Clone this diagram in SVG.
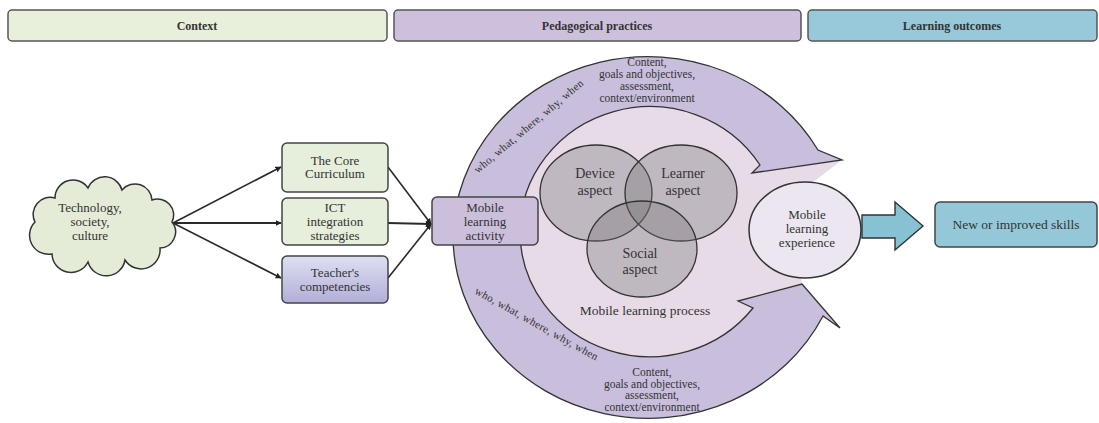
<svg xmlns="http://www.w3.org/2000/svg" width="1099" height="423" viewBox="0 0 1099 423">
<defs>
<style>
.t{font-family:"Liberation Serif","DejaVu Serif",serif;fill:#333;text-anchor:middle}
.h{font-size:12px;font-weight:bold}
.b{font-size:13px}
.s{font-size:11.5px}
.r{font-size:11px;letter-spacing:0.3px}
.v{font-size:14px}
.bar{stroke:#555;stroke-width:1.5}
.box{stroke:#444;stroke-width:1.5}
.ln{stroke:#2a2a2a;stroke-width:1.6;fill:none}
.band{fill:#c9bedc;stroke:#333;stroke-width:1.3}
.venn{fill:#707070;fill-opacity:0.33;stroke:#333;stroke-width:1.3}
</style>
<linearGradient id="tg" x1="0" y1="0" x2="0" y2="1">
<stop offset="0" stop-color="#dde0f2"/>
<stop offset="1" stop-color="#b2aed8"/>
</linearGradient>
<marker id="ah" viewBox="0 0 10 10" refX="9" refY="5" markerWidth="6" markerHeight="6" orient="auto" markerUnits="userSpaceOnUse">
<path d="M0,0 L10,5 L0,10 z" fill="#222"/>
</marker>
</defs>
<rect width="1099" height="423" fill="#ffffff"/>

<g id="header-context"><rect class="bar" x="8" y="10" width="379" height="31" rx="4" fill="#e8f0dc"/><text class="t h" x="197" y="30">Context</text></g>
<g id="header-pedagogical"><rect class="bar" x="394" y="10" width="407" height="31" rx="4" fill="#cdc0dd"/><text class="t h" x="597" y="30">Pedagogical practices</text></g>
<g id="header-outcomes"><rect class="bar" x="808" y="10" width="289" height="31" rx="4" fill="#97c9da"/><text class="t h" x="952" y="30">Learning outcomes</text></g>

<g id="connectors">
<line class="ln" x1="173" y1="223" x2="281" y2="167" marker-end="url(#ah)"/>
<line class="ln" x1="173" y1="223" x2="281" y2="223" marker-end="url(#ah)" style="stroke-width:2.2"/>
<line class="ln" x1="173" y1="223" x2="281" y2="278" marker-end="url(#ah)"/>
<line class="ln" x1="388" y1="167" x2="431" y2="224" marker-end="url(#ah)"/>
<line class="ln" x1="388" y1="223" x2="431" y2="224" marker-end="url(#ah)" style="stroke-width:2.2"/>
<line class="ln" x1="388" y1="278" x2="431" y2="224" marker-end="url(#ah)"/>
</g>

<g id="cloud">
<path d="M35,222 A17 17 0 0 1 55,198 A18 18 0 0 1 88,188 A18 18 0 0 1 122,190 A17 17 0 0 1 152,200 A16 16 0 0 1 172,222 A16 16 0 0 1 160,248 A19 19 0 0 1 125,260 A19 19 0 0 1 88,262 A19 19 0 0 1 52,254 A19 19 0 0 1 35,222 Z" fill="#e4ecd8" stroke="#333" stroke-width="1.5"/>
<text class="t b" x="90" y="212">Technology,</text>
<text class="t b" x="90" y="226">society,</text>
<text class="t b" x="90" y="240">culture</text>
</g>

<g id="core-curriculum"><rect class="box" x="282" y="143" width="106" height="49" rx="5" fill="#e6eedc"/><text class="t b" x="335" y="165">The Core</text><text class="t b" x="335" y="178">Curriculum</text></g>
<g id="ict"><rect class="box" x="282" y="198" width="106" height="47" rx="5" fill="#e6eedc"/><text class="t b" x="335" y="212">ICT</text><text class="t b" x="335" y="226">integration</text><text class="t b" x="335" y="240">strategies</text></g>
<g id="teachers"><rect class="box" x="282" y="256" width="106" height="47" rx="5" fill="url(#tg)"/><text class="t b" x="335" y="277">Teacher's</text><text class="t b" x="335" y="291">competencies</text></g>

<g id="process-area">
<path d="M760,165 A130 125 0 1 0 753,308 L802,284 L790,200 L842,160 Z" fill="#e8dbe8"/>
</g>

<g id="cycle-upper">
<path class="band" d="M453,236 A195 183 0 0 1 818,150 L842,160 L752,173 L760,165 A130 125 0 0 0 520,232 Z"/>
<text class="t s" x="647" y="66">Content,</text>
<text class="t s" x="647" y="78">goals and objectives,</text>
<text class="t s" x="647" y="90">assessment,</text>
<text class="t s" x="647" y="102">context/environment</text>
<text class="t r" transform="translate(531,129) rotate(-40)">who, what, where, why, when</text>
</g>

<g id="cycle-lower">
<path class="band" d="M453,236 A195 183 0 0 0 823,316 L840,328 L802,284 L738,301 L753,308 A130 125 0 0 1 520,232 Z"/>
<text class="t s" x="652" y="376">Content,</text>
<text class="t s" x="652" y="387.5">goals and objectives,</text>
<text class="t s" x="652" y="399">assessment,</text>
<text class="t s" x="652" y="410.5">context/environment</text>
<text class="t r" transform="translate(535,327) rotate(29)">who, what, where, why, when</text>
</g>

<g id="venn">
<ellipse class="venn" cx="596" cy="193" rx="56" ry="48"/>
<ellipse class="venn" cx="681" cy="193" rx="56" ry="48"/>
<ellipse class="venn" cx="642" cy="249" rx="55" ry="48"/>
<text class="t v" x="595" y="178">Device</text><text class="t v" x="595" y="195">aspect</text>
<text class="t v" x="683" y="178">Learner</text><text class="t v" x="683" y="195">aspect</text>
<text class="t v" x="640" y="258">Social</text><text class="t v" x="640" y="274">aspect</text>
<text class="t" style="font-size:13.5px" x="645" y="315">Mobile learning process</text>
</g>

<g id="mobile-activity"><rect class="box" x="432" y="197" width="106" height="48" rx="5" fill="#cbbfdc"/><text class="t b" x="485" y="212">Mobile</text><text class="t b" x="485" y="226">learning</text><text class="t b" x="485" y="240">activity</text></g>

<g id="mobile-experience"><ellipse cx="805" cy="230" rx="56" ry="48" fill="#ebe6f0" stroke="#333" stroke-width="1.5"/><text class="t b" x="807" y="219">Mobile</text><text class="t b" x="807" y="233">learning</text><text class="t b" x="807" y="247">experience</text></g>

<g id="outcome-arrow"><path d="M862,215 L895,215 L895,202 L923,226 L895,250 L895,238 L862,238 Z" fill="#86c2d4" stroke="#333" stroke-width="1.4"/></g>

<g id="skills"><rect class="box" x="935" y="202" width="162" height="45" rx="5" fill="#94c8d8"/><text class="t" style="font-size:13.5px" x="1016" y="229">New or improved skills</text></g>
</svg>
